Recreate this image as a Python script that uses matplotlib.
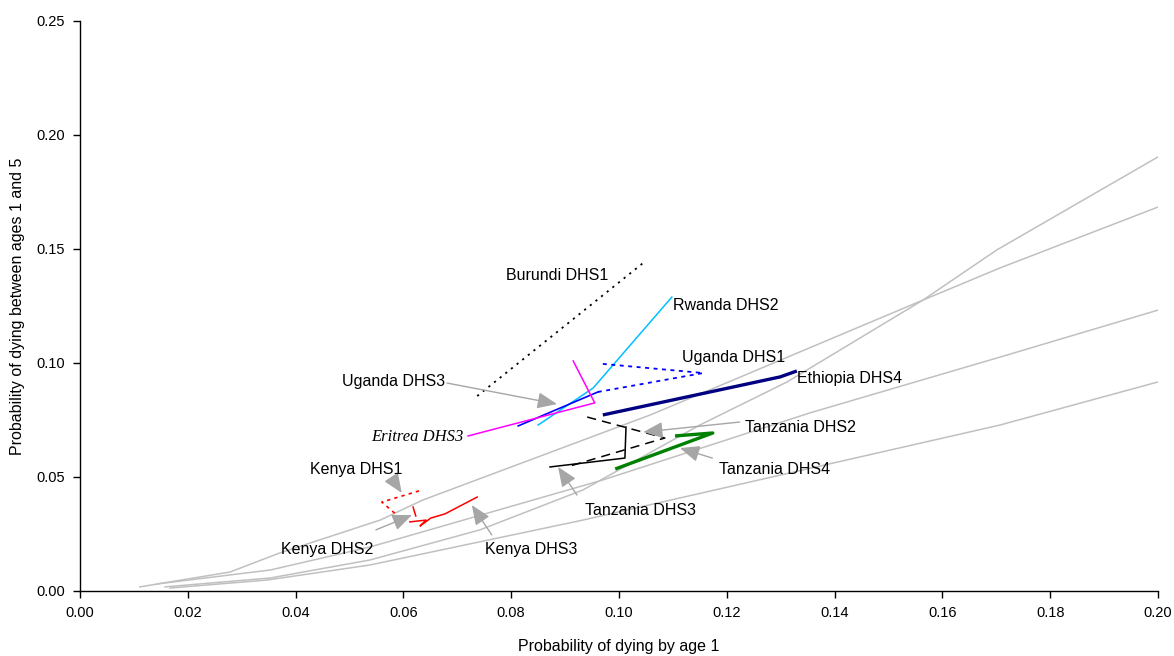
import matplotlib
matplotlib.use('Agg')
import matplotlib.pyplot as plt
from matplotlib.ticker import MultipleLocator, FormatStrFormatter

plt.rcParams['font.family'] = ['Liberation Sans', 'DejaVu Sans']

# model life table reference curves (1q0, 4q1)
model_a_x = [0.0158, 0.0353, 0.0538, 0.0742, 0.0933, 0.1150, 0.1312, 0.1564, 0.1701, 0.2000]
model_a_y = [0.0018, 0.0057, 0.0136, 0.0268, 0.0443, 0.0728, 0.0917, 0.1276, 0.1496, 0.1904]
model_b_x = [0.0111, 0.0278, 0.0371, 0.0557, 0.0636, 0.1058, 0.1564, 0.1707, 0.2000]
model_b_y = [0.0018, 0.0083, 0.0167, 0.0311, 0.0399, 0.0772, 0.1276, 0.1417, 0.1684]
model_c_x = [0.0143, 0.0353, 0.0538, 0.0970, 0.1354, 0.1707, 0.2000]
model_c_y = [0.0031, 0.0092, 0.0193, 0.0487, 0.0781, 0.1026, 0.1232]
model_d_x = [0.0167, 0.0347, 0.0538, 0.0933, 0.1707, 0.2000]
model_d_y = [0.0013, 0.0048, 0.0114, 0.0311, 0.0728, 0.0917]

# survey estimates
burundi1_x = [0.0737, 0.1045]
burundi1_y = [0.0855, 0.1439]
rwanda2_x = [0.0850, 0.0952, 0.1098]
rwanda2_y = [0.0728, 0.0890, 0.1289]
uganda1_x = [0.0970, 0.1156, 0.0961]
uganda1_y = [0.0996, 0.0956, 0.0873]
uganda3_x = [0.0813, 0.0961]
uganda3_y = [0.0724, 0.0873]
eritrea3_x = [0.0720, 0.0955, 0.0915]
eritrea3_y = [0.0680, 0.0825, 0.1009]
ethiopia4_x = [0.0970, 0.1299, 0.1330]
ethiopia4_y = [0.0772, 0.0939, 0.0965]
tanzania2_x = [0.0941, 0.1085, 0.0909]
tanzania2_y = [0.0763, 0.0671, 0.0548]
tanzania3_x = [0.0872, 0.1011, 0.1013]
tanzania3_y = [0.0544, 0.0583, 0.0719]
tanzania4_x = [0.1104, 0.1174, 0.0993]
tanzania4_y = [0.0680, 0.0693, 0.0535]
kenya1_x = [0.0629, 0.0560, 0.0588]
kenya1_y = [0.0439, 0.0390, 0.0333]
kenya2_x = [0.0618, 0.0623]
kenya2_y = [0.0368, 0.0329]
kenya3_x = [0.0612, 0.0642, 0.0631, 0.0651, 0.0677, 0.0737]
kenya3_y = [0.0303, 0.0311, 0.0285, 0.0320, 0.0338, 0.0412]

fig = plt.figure(figsize=(11.74, 6.56), dpi=100)
ax = fig.add_axes([0.0681, 0.0991, 0.9183, 0.8689])

grey = '#C0C0C0'
for mx, my in [(model_a_x, model_a_y), (model_b_x, model_b_y),
               (model_c_x, model_c_y), (model_d_x, model_d_y)]:
    ax.plot(mx, my, color=grey, lw=1.1, zorder=1)

ax.plot(burundi1_x, burundi1_y, color='black', lw=1.3, ls=(0, (1.2, 2.8)))
ax.plot(rwanda2_x, rwanda2_y, color='#00BFFF', lw=1.1)
ax.plot(uganda1_x, uganda1_y, color='#0000FF', lw=1.3, ls=(0, (2.2, 2.5)))
ax.plot(uganda3_x, uganda3_y, color='#0000FF', lw=1.2)
ax.plot(eritrea3_x, eritrea3_y, color='#FF00FF', lw=1.1)
ax.plot(ethiopia4_x, ethiopia4_y, color='#000080', lw=2.4, solid_capstyle='butt')
ax.plot(tanzania2_x, tanzania2_y, color='black', lw=1.1, ls=(0, (6, 4)))
ax.plot(tanzania3_x, tanzania3_y, color='black', lw=1.1)
ax.plot(tanzania4_x, tanzania4_y, color='#008000', lw=2.4, solid_capstyle='butt')
ax.plot(kenya1_x, kenya1_y, color='#FF0000', lw=1.2, ls=(0, (2, 2.5)))
ax.plot(kenya2_x, kenya2_y, color='#FF0000', lw=1.1)
ax.plot(kenya3_x, kenya3_y, color='#FF0000', lw=1.1)

fs = 11.5
# labels with arrows: text, text pos, alignment, tail, head
arrow_labels = [
    ('Kenya DHS1', (0.0512, 0.0531), 'center', (0.0581, 0.0487), (0.0597, 0.0430)),
    ('Kenya DHS2', (0.0458, 0.0180), 'center', (0.0549, 0.0268), (0.0616, 0.0333)),
    ('Kenya DHS3', (0.0837, 0.0184), 'center', (0.0764, 0.0246), (0.0727, 0.0377)),
    ('Tanzania DHS3', (0.1039, 0.0355), 'center', (0.0922, 0.0421), (0.0887, 0.0544)),
    ('Tanzania DHS4', (0.1289, 0.0531), 'center', (0.1173, 0.0583), (0.1113, 0.0627)),
    ('Tanzania DHS2', (0.1234, 0.0719), 'left', (0.1224, 0.0741), (0.1045, 0.0697)),
    ('Uganda DHS3', (0.0677, 0.0921), 'right', (0.0681, 0.0912), (0.0885, 0.0820)),
]
for txt, pos, ha, tail, head in arrow_labels:
    ax.annotate('', xy=head, xytext=tail,
                arrowprops=dict(arrowstyle='-|>,head_length=1.2,head_width=0.5',
                                color='#A6A6A6', lw=1.0, mutation_scale=10,
                                shrinkA=0, shrinkB=0))
    ax.text(pos[0], pos[1], txt, ha=ha, va='center', fontsize=fs)

ax.text(0.0980, 0.1382, 'Burundi DHS1', ha='right', va='center', fontsize=fs)
ax.text(0.1100, 0.1254, 'Rwanda DHS2', ha='left', va='center', fontsize=fs)
ax.text(0.1117, 0.1022, 'Uganda DHS1', ha='left', va='center', fontsize=fs)
ax.text(0.1330, 0.0930, 'Ethiopia DHS4', ha='left', va='center', fontsize=fs)
ax.text(0.0711, 0.0675, 'Eritrea DHS3', ha='right', va='center', fontsize=12,
        family=['Liberation Serif', 'DejaVu Serif'], style='italic')

ax.set_xlim(0, 0.20)
ax.set_ylim(0, 0.25)
ax.xaxis.set_major_locator(MultipleLocator(0.02))
ax.yaxis.set_major_locator(MultipleLocator(0.05))
ax.xaxis.set_major_formatter(FormatStrFormatter('%.2f'))
ax.yaxis.set_major_formatter(FormatStrFormatter('%.2f'))
ax.spines['top'].set_visible(False)
ax.spines['right'].set_visible(False)
ax.spines['left'].set_linewidth(1.0)
ax.spines['bottom'].set_linewidth(1.0)
ax.tick_params(direction='out', length=5, width=1.0, labelsize=10.5, pad=6)
ax.set_xlabel('Probability of dying by age 1', fontsize=11.5)
ax.set_ylabel('Probability of dying between ages 1 and 5', fontsize=11.5)
ax.xaxis.set_label_coords(0.5, -0.084)
ax.yaxis.set_label_coords(-0.051, 0.5)

plt.savefig('out.png', dpi=100)
